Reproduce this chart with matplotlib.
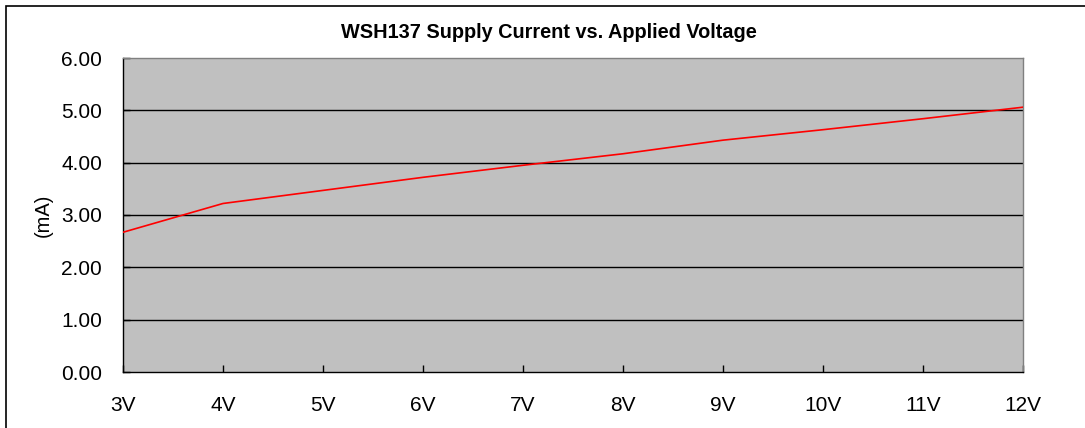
import matplotlib
matplotlib.use("Agg")
import matplotlib.pyplot as plt
from matplotlib.patches import Rectangle

plt.rcParams['font.family'] = ['Liberation Sans', 'DejaVu Sans']

voltages = ["3V", "4V", "5V", "6V", "7V", "8V", "9V", "10V", "11V", "12V"]
current_ma = [2.67, 3.22, 3.47, 3.72, 3.95, 4.17, 4.43, 4.63, 4.84, 5.06]
y_ticks = [0.0, 1.0, 2.0, 3.0, 4.0, 5.0, 6.0]
y_tick_labels = ["0.00", "1.00", "2.00", "3.00", "4.00", "5.00", "6.00"]
title = "WSH137 Supply Current vs. Applied Voltage"
y_label = "(mA)"

W, H = 1085, 428
fig = plt.figure(figsize=(W / 100, H / 100), dpi=100)
fig.patch.set_facecolor("white")

ax = fig.add_axes([123 / W, (H - 372) / H, 900 / W, 314 / H])
ax.set_facecolor("#C0C0C0")

x = list(range(len(voltages)))
ax.plot(x, current_ma, color="#FF0000", lw=1.2, zorder=3)

ax.set_xlim(0, len(voltages) - 1)
ax.set_ylim(0, 6)
ax.set_xticks(x)
ax.set_xticklabels(voltages)
ax.set_yticks(y_ticks)
ax.set_yticklabels(y_tick_labels)

for yv in y_ticks[1:-1]:
    ax.axhline(yv, color="#000000", lw=1.0, zorder=1)

ax.tick_params(axis="both", direction="in", length=5, width=1, color="#000000",
               labelsize=15)
ax.tick_params(axis="y", pad=15)
ax.tick_params(axis="x", pad=17)

ax.spines["left"].set_color("#000000")
ax.spines["bottom"].set_color("#000000")
ax.spines["top"].set_color("#808080")
ax.spines["right"].set_color("#808080")
for s in ax.spines.values():
    s.set_linewidth(1.0)

ax.set_ylabel(y_label, fontsize=14.5, labelpad=6)

fig.text(549 / W, 1 - 32 / H, title, ha="center", va="center",
         fontsize=14.3, fontweight="bold")

fig.add_artist(Rectangle((6 / W, -0.1), 1.2, (H - 6) / H + 0.1,
                         transform=fig.transFigure, fill=False,
                         edgecolor="black", lw=1.2))

fig.savefig("out.png", dpi=100)
